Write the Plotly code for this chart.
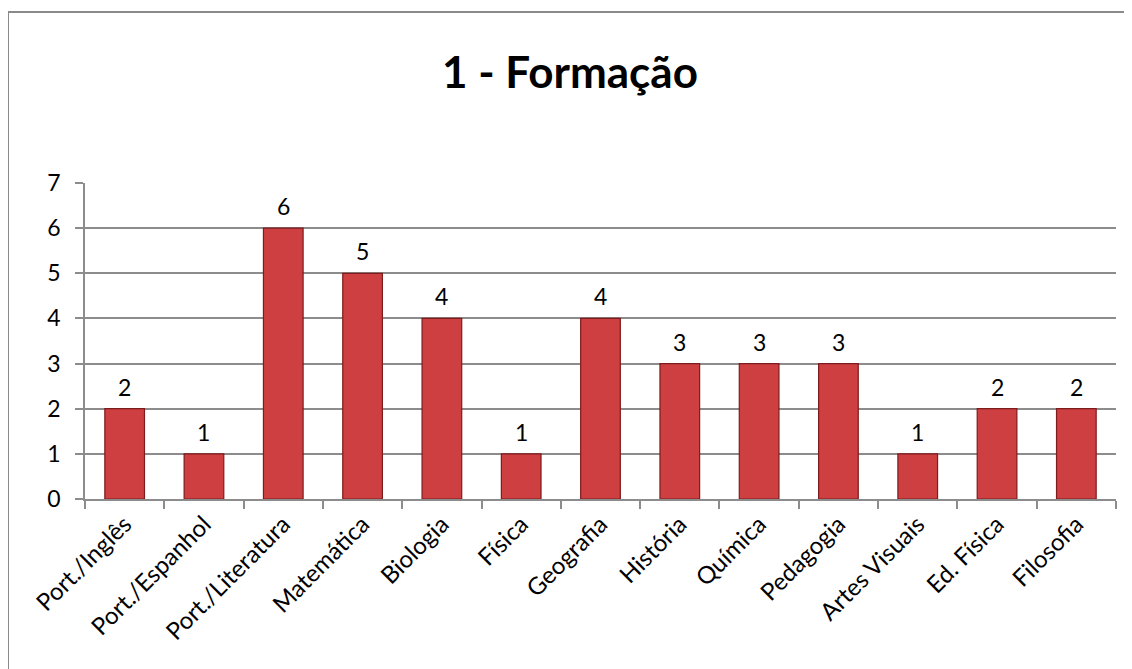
import plotly.graph_objects as go

# dados do gráfico
cursos = [
    "Port./Inglês", "Port./Espanhol", "Port./Literatura", "Matemática",
    "Biologia", "Física", "Geografia", "História", "Química",
    "Pedagogia", "Artes Visuais", "Ed. Física", "Filosofia",
]
quantidade = [2, 1, 6, 5, 4, 1, 4, 3, 3, 3, 1, 2, 2]
y_ticks = [0, 1, 2, 3, 4, 5, 6, 7]

FONTE = "Lato, Open Sans, sans-serif"
GRADE = "#8c8c8c"

fig = go.Figure()

fig.add_trace(
    go.Bar(
        x=cursos,
        y=quantidade,
        width=0.5,
        marker=dict(color="#CD3F40", line=dict(color="#7E1B1C", width=1.2)),
        showlegend=False,
    )
)

# rótulos de dados acima das barras
for c, v in zip(cursos, quantidade):
    fig.add_annotation(
        x=c, y=v, text=str(v), showarrow=False, yshift=22,
        font=dict(family=FONTE, size=23, color="black"),
    )

# moldura do gráfico
fig.add_shape(
    type="rect", xref="paper", yref="paper",
    x0=-0.0747, x1=1.05, y0=-0.6, y1=1.541,
    line=dict(color="#8a8a8a", width=2), fillcolor="rgba(0,0,0,0)",
)

fig.update_layout(
    title=dict(
        text="<b>1 - Formação</b>",
        x=0.5, xanchor="center", y=0.903, yanchor="middle",
        font=dict(family=FONTE, size=44, color="black"),
    ),
    width=1124,
    height=661,
    margin=dict(l=77, r=16, t=175, b=170, autoexpand=False),
    plot_bgcolor="white",
    paper_bgcolor="white",
    bargap=0.5,
)

fig.update_xaxes(
    showline=True, linecolor=GRADE, linewidth=1.5,
    ticks="outside", tickson="boundaries", ticklen=8, tickcolor=GRADE, tickwidth=1.5,
    tickangle=-45, automargin=False,
    tickfont=dict(family=FONTE, size=24, color="black"),
    showgrid=False,
)

fig.update_yaxes(
    range=[0, 7], tickvals=y_ticks,
    showline=True, linecolor=GRADE, linewidth=1.5,
    ticks="outside", ticklen=8, tickcolor=GRADE, tickwidth=1.5,
    ticklabelstandoff=10,
    showgrid=True, gridcolor=GRADE, gridwidth=1.5,
    zeroline=False, automargin=False,
    tickfont=dict(family=FONTE, size=23, color="black"),
)

fig.write_html("out.html")
